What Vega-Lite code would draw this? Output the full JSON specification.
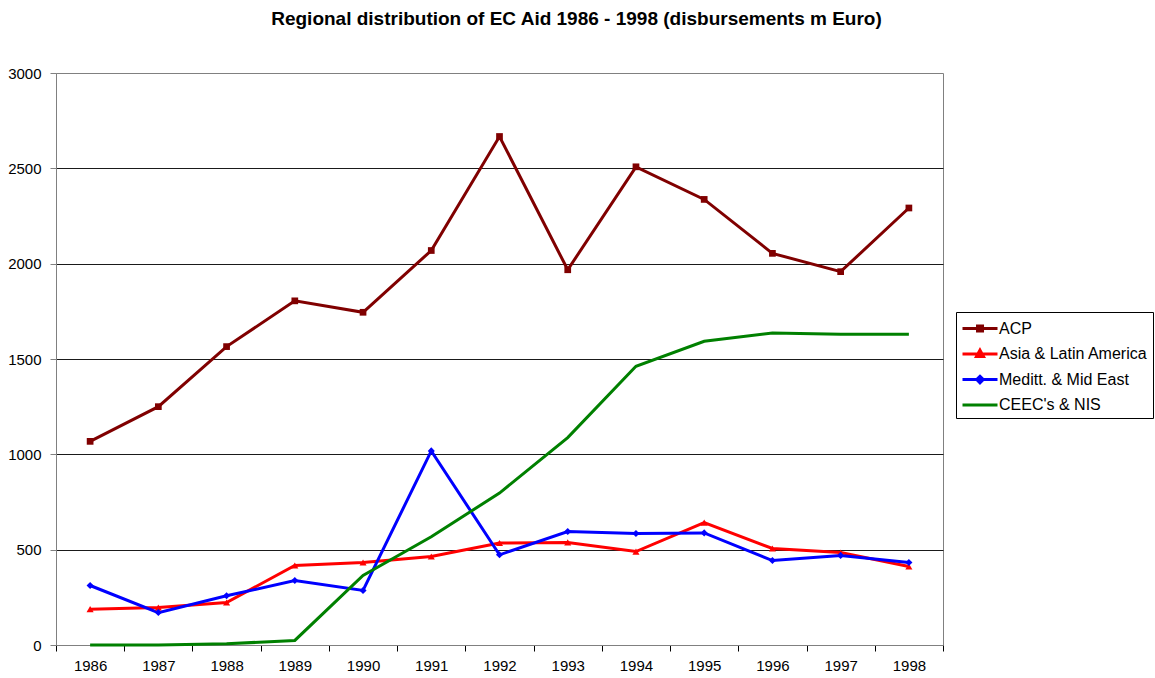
{
  "$schema": "https://vega.github.io/schema/vega-lite/v6.json",
  "autosize": "none",
  "width": 887,
  "height": 572,
  "padding": {"left": 56, "top": 73, "right": 212, "bottom": 33},
  "background": "white",
  "config": {
    "font": "Liberation Sans",
    "view": {"stroke": "#808080", "strokeWidth": 1}
  },
  "title": {
    "text": "Regional distribution of EC Aid 1986 - 1998 (disbursements m Euro)",
    "fontSize": 19,
    "fontWeight": "bold",
    "font": "Liberation Sans",
    "color": "black",
    "anchor": "middle",
    "dx": 77,
    "offset": 37
  },
  "data": {
    "values": [
      {"year": "1986", "region": "ACP", "value": 1068},
      {"year": "1987", "region": "ACP", "value": 1250},
      {"year": "1988", "region": "ACP", "value": 1565},
      {"year": "1989", "region": "ACP", "value": 1805},
      {"year": "1990", "region": "ACP", "value": 1745},
      {"year": "1991", "region": "ACP", "value": 2069},
      {"year": "1992", "region": "ACP", "value": 2667},
      {"year": "1993", "region": "ACP", "value": 1968},
      {"year": "1994", "region": "ACP", "value": 2508},
      {"year": "1995", "region": "ACP", "value": 2337},
      {"year": "1996", "region": "ACP", "value": 2054},
      {"year": "1997", "region": "ACP", "value": 1958},
      {"year": "1998", "region": "ACP", "value": 2292},
      {"year": "1986", "region": "Asia & Latin America", "value": 188},
      {"year": "1987", "region": "Asia & Latin America", "value": 197},
      {"year": "1988", "region": "Asia & Latin America", "value": 223},
      {"year": "1989", "region": "Asia & Latin America", "value": 417},
      {"year": "1990", "region": "Asia & Latin America", "value": 433},
      {"year": "1991", "region": "Asia & Latin America", "value": 464},
      {"year": "1992", "region": "Asia & Latin America", "value": 535},
      {"year": "1993", "region": "Asia & Latin America", "value": 538},
      {"year": "1994", "region": "Asia & Latin America", "value": 490},
      {"year": "1995", "region": "Asia & Latin America", "value": 642},
      {"year": "1996", "region": "Asia & Latin America", "value": 506},
      {"year": "1997", "region": "Asia & Latin America", "value": 485},
      {"year": "1998", "region": "Asia & Latin America", "value": 412},
      {"year": "1986", "region": "Meditt. & Mid East", "value": 312},
      {"year": "1987", "region": "Meditt. & Mid East", "value": 170},
      {"year": "1988", "region": "Meditt. & Mid East", "value": 258},
      {"year": "1989", "region": "Meditt. & Mid East", "value": 338},
      {"year": "1990", "region": "Meditt. & Mid East", "value": 286},
      {"year": "1991", "region": "Meditt. & Mid East", "value": 1018},
      {"year": "1992", "region": "Meditt. & Mid East", "value": 473},
      {"year": "1993", "region": "Meditt. & Mid East", "value": 595},
      {"year": "1994", "region": "Meditt. & Mid East", "value": 585},
      {"year": "1995", "region": "Meditt. & Mid East", "value": 588},
      {"year": "1996", "region": "Meditt. & Mid East", "value": 443},
      {"year": "1997", "region": "Meditt. & Mid East", "value": 470},
      {"year": "1998", "region": "Meditt. & Mid East", "value": 433},
      {"year": "1986", "region": "CEEC's & NIS", "value": 0},
      {"year": "1987", "region": "CEEC's & NIS", "value": 0},
      {"year": "1988", "region": "CEEC's & NIS", "value": 6},
      {"year": "1989", "region": "CEEC's & NIS", "value": 24},
      {"year": "1990", "region": "CEEC's & NIS", "value": 365},
      {"year": "1991", "region": "CEEC's & NIS", "value": 568},
      {"year": "1992", "region": "CEEC's & NIS", "value": 797},
      {"year": "1993", "region": "CEEC's & NIS", "value": 1088},
      {"year": "1994", "region": "CEEC's & NIS", "value": 1462},
      {"year": "1995", "region": "CEEC's & NIS", "value": 1593},
      {"year": "1996", "region": "CEEC's & NIS", "value": 1636},
      {"year": "1997", "region": "CEEC's & NIS", "value": 1630},
      {"year": "1998", "region": "CEEC's & NIS", "value": 1630}
    ]
  },
  "encoding": {
    "x": {
      "field": "year",
      "type": "ordinal",
      "scale": {"type": "band", "paddingInner": 0, "paddingOuter": 0},
      "axis": {
        "title": null,
        "labelAngle": 0,
        "tickBand": "extent",
        "labelFontSize": 15,
        "labelColor": "black",
        "labelPadding": 7,
        "domainColor": "#808080",
        "tickColor": "black",
        "tickSize": 6,
        "grid": false
      }
    },
    "y": {
      "field": "value",
      "type": "quantitative",
      "scale": {"domain": [0, 3000], "nice": false},
      "axis": {
        "title": null,
        "format": "d",
        "values": [0, 500, 1000, 1500, 2000, 2500, 3000],
        "grid": true,
        "gridColor": {"condition": {"test": "datum.value === 0 || datum.value === 3000", "value": "transparent"}, "value": "#1a1a1a"},
        "gridOpacity": 1,
        "labelFontSize": 15,
        "labelColor": "black",
        "labelPadding": 9,
        "domainColor": "#808080",
        "tickColor": "#808080",
        "tickSize": 6
      }
    },
    "color": {
      "field": "region",
      "type": "nominal",
      "sort": ["ACP", "Asia & Latin America", "Meditt. & Mid East", "CEEC's & NIS"],
      "scale": {
        "domain": ["ACP", "Asia & Latin America", "Meditt. & Mid East", "CEEC's & NIS"],
        "range": ["#800000", "#FF0000", "#0000FF", "#008000"]
      },
      "legend": {
        "title": null,
        "orient": "none",
        "legendX": 900,
        "legendY": 239,
        "strokeColor": "black",
        "fillColor": "white",
        "padding": 5,
        "labelFontSize": 16,
        "labelColor": "black",
        "labelOffset": 22,
        "symbolSize": 169,
        "rowPadding": 4.5,
        "symbolStrokeWidth": 3,
        "encode": {
          "labels": {
            "update": {"dy": {"value": 3.5}}
          },
          "symbols": {
            "update": {
              "shape": {"signal": "datum.value === 'ACP' ? 'M-1,0.54L4.385,0.54M1.31,0.155L2.08,0.155L2.08,0.925L1.31,0.925Z' : datum.value === 'Asia & Latin America' ? 'M-1,0.54L4.385,0.54M1.69,-0.06L2.23,0.94L1.15,0.94Z' : datum.value === 'Meditt. & Mid East' ? 'M-1,0.54L4.385,0.54M1.69,0.04L2.19,0.54L1.69,1.04L1.19,0.54Z' : 'M-1,0.54L4.385,0.54'"},
              "fill": {"scale": "color", "field": "value"},
              "stroke": {"scale": "color", "field": "value"},
              "strokeWidth": {"value": 3},
              "opacity": {"value": 1}
            }
          }
        }
      }
    }
  },
  "layer": [
    {
      "mark": {"type": "line", "strokeWidth": 3}
    },
    {
      "transform": [{"filter": "datum.region === 'ACP'"}],
      "mark": {"type": "point", "filled": true, "opacity": 1, "size": 45, "shape": "square"}
    },
    {
      "transform": [{"filter": "datum.region === 'Asia & Latin America'"}],
      "mark": {"type": "point", "filled": true, "opacity": 1, "size": 50, "shape": "triangle-up"}
    },
    {
      "transform": [{"filter": "datum.region === 'Meditt. & Mid East'"}],
      "mark": {"type": "point", "filled": true, "opacity": 1, "size": 50, "shape": "diamond"}
    }
  ]
}
